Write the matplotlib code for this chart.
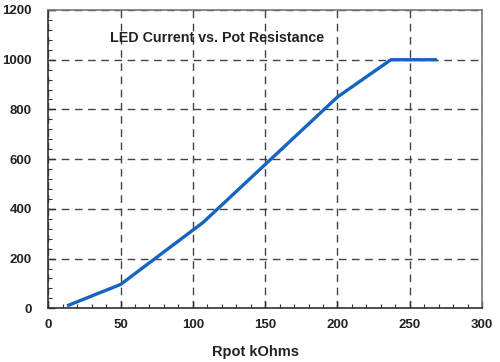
import matplotlib
matplotlib.use("Agg")
import matplotlib.pyplot as plt
from matplotlib.ticker import MultipleLocator

rpot_kohm = [13, 50, 107, 200, 237, 269]
led_current = [10, 96, 345, 850, 1000, 1000]
x_ticks = [0, 50, 100, 150, 200, 250, 300]
y_ticks = [0, 200, 400, 600, 800, 1000, 1200]
title = "LED Current vs. Pot Resistance"
xlabel = "Rpot kOhms"

plt.rcParams['font.family'] = ['Liberation Sans', 'DejaVu Sans']

fig = plt.figure(figsize=(5.0, 3.62), dpi=100)
ax = fig.add_axes([48.3/500, 1-308.3/362, (482-48.3)/500, (308.3-10)/362])

ax.plot(rpot_kohm, led_current, color='#1565c0', lw=2.4, solid_capstyle='butt', zorder=3)

ax.set_xlim(0, 300)
ax.set_ylim(0, 1200)
ax.set_xticks(x_ticks)
ax.set_yticks(y_ticks)
ax.xaxis.set_minor_locator(MultipleLocator(10))
ax.yaxis.set_minor_locator(MultipleLocator(40))
ax.tick_params(which='major', direction='in', length=5, width=1, color='#333333',
               labelsize=9.5, pad=8)
ax.tick_params(which='minor', direction='in', length=3, width=0.8, color='#333333')
ax.tick_params(axis='y', pad=12)
for lab in ax.get_xticklabels() + ax.get_yticklabels():
    lab.set_fontweight('bold')
    lab.set_color('#222222')

ax.grid(True, which='major', color='#444444', lw=1.0, ls=(0, (5.5, 4)))
for s in ['left', 'bottom']:
    ax.spines[s].set_color('#333333')
    ax.spines[s].set_linewidth(1.2)
for s in ['top', 'right']:
    ax.spines[s].set_color('#777777')
    ax.spines[s].set_linewidth(1.2)

ax.text(110/500, 1-38/362, title, transform=fig.transFigure, fontsize=10.3,
        fontweight='bold', color='#222222', va='center', ha='left')
fig.text(256/500, 1-352/362, xlabel, fontsize=10.5, fontweight='bold',
         color='#222222', ha='center', va='center')

fig.savefig('out.png', dpi=100)
